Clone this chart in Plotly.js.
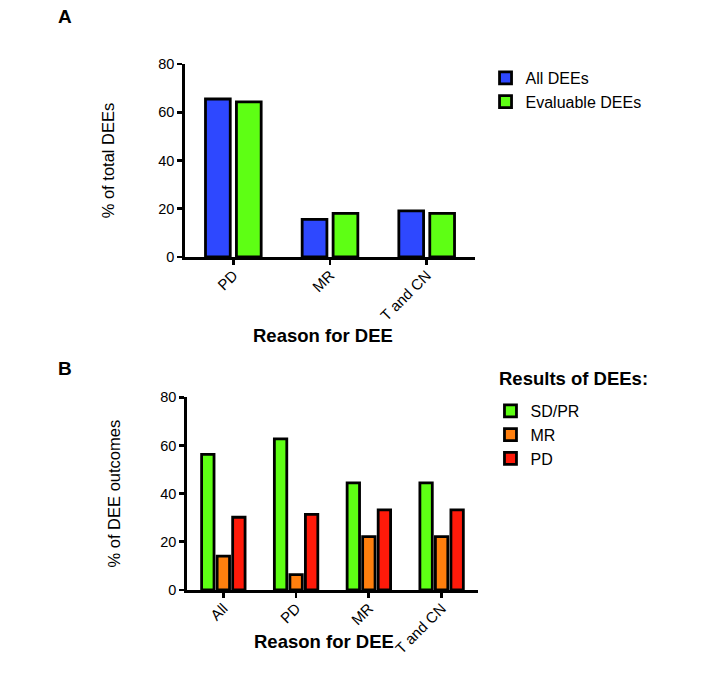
<!DOCTYPE html>
<html>
<head>
<meta charset="utf-8">
<script src="https://cdn.plot.ly/plotly-3.0.1.min.js"></script>
<style>html,body{margin:0;padding:0;background:#fff;}#chart{width:705px;height:676px;}</style>
</head>
<body>
<div id="chart"></div>
<script>
// Panel A
const catsA = ["PD", "MR", "T and CN"];
const allDEEs = [65.5, 15.6, 19.1];
const evaluableDEEs = [64.3, 18.1, 18.1];
// Panel B
const catsB = ["All", "PD", "MR", "T and CN"];
const sdpr = [56.3, 62.7, 44.5, 44.5];
const mr = [14.1, 6.4, 22.2, 22.2];
const pd = [30.2, 31.4, 33.3, 33.3];
const yTicks = [0, 20, 40, 60, 80];

const FONT = "Liberation Sans, Arial, sans-serif";
const line = {color: "#000", width: 2.8};

const traces = [
  {type: "bar", x: catsA, y: allDEEs, name: "All DEEs", marker: {color: "#2E48FF", line: line}, xaxis: "x", yaxis: "y", legend: "legend"},
  {type: "bar", x: catsA, y: evaluableDEEs, name: "Evaluable DEEs", marker: {color: "#5EFF14", line: line}, xaxis: "x", yaxis: "y", legend: "legend"},
  {type: "bar", x: catsB, y: sdpr, name: "SD/PR", marker: {color: "#5EFF14", line: line}, xaxis: "x2", yaxis: "y2", legend: "legend2"},
  {type: "bar", x: catsB, y: mr, name: "MR", marker: {color: "#FF7F0E", line: line}, xaxis: "x2", yaxis: "y2", legend: "legend2"},
  {type: "bar", x: catsB, y: pd, name: "PD", marker: {color: "#FF1A0A", line: line}, xaxis: "x2", yaxis: "y2", legend: "legend2"}
];

function xax(domain, anchor, n) {
  return {
    domain: domain, anchor: anchor, range: [-0.5, n - 0.5],
    showline: true, linecolor: "#000", linewidth: 2.8,
    ticks: "outside", ticklen: 5, tickwidth: 2.8, tickcolor: "#000",
    tickangle: -45, ticklabelstandoff: -4, tickfont: {family: FONT, size: 15, color: "#000"},
    showgrid: false, zeroline: false, fixedrange: true
  };
}
function yax(domain, anchor, title, standoff) {
  return {
    domain: domain, anchor: anchor, range: [0, 80],
    tickvals: yTicks, ticktext: yTicks.map(String),
    showline: true, linecolor: "#000", linewidth: 2.8,
    ticks: "outside", ticklen: 5, tickwidth: 2.8, tickcolor: "#000",
    tickfont: {family: FONT, size: 14.5, color: "#000"},
    showgrid: false, zeroline: false, fixedrange: true,
    title: {text: title, font: {family: FONT, size: 16.5, color: "#000"}, standoff: standoff}
  };
}

const layout = {
  width: 705, height: 676,
  margin: {l: 0, r: 0, t: 0, b: 0},
  paper_bgcolor: "#fff", plot_bgcolor: "#fff",
  font: {family: FONT, color: "#000"},
  barmode: "group", bargap: 0.36, bargroupgap: 0.2,
  xaxis: xax([0.2624, 0.6738], "y", catsA.length),
  yaxis: yax([0.6198, 0.9053], "x", "% of total DEEs", 40),
  xaxis2: xax([0.2652, 0.678], "y2", catsB.length),
  yaxis2: yax([0.1272, 0.4123], "x2", "% of DEE outcomes", 36),
  legend: {x: 0.6887, y: 0.9098, xanchor: "left", yanchor: "top", font: {family: FONT, size: 16, color: "#000"}, bgcolor: "rgba(0,0,0,0)", tracegroupgap: 0, itemwidth: 30},
  legend2: {x: 0.6957, y: 0.4172, xanchor: "left", yanchor: "top", font: {family: FONT, size: 16, color: "#000"}, bgcolor: "rgba(0,0,0,0)", itemwidth: 30},
  annotations: [
    {text: "<b>A</b>", xref: "paper", yref: "paper", x: 56/705, y: 1 - 17/676, xanchor: "left", yanchor: "middle", showarrow: false, font: {family: FONT, size: 19, color: "#000"}},
    {text: "<b>B</b>", xref: "paper", yref: "paper", x: 56/705, y: 1 - 368/676, xanchor: "left", yanchor: "middle", showarrow: false, font: {family: FONT, size: 19, color: "#000"}},
    {text: "<b>Reason for DEE</b>", xref: "paper", yref: "paper", x: 323/705, y: 1 - 335/676, xanchor: "center", yanchor: "middle", showarrow: false, font: {family: FONT, size: 18.5, color: "#000"}},
    {text: "<b>Reason for DEE</b>", xref: "paper", yref: "paper", x: 324/705, y: 1 - 641/676, xanchor: "center", yanchor: "middle", showarrow: false, font: {family: FONT, size: 18.5, color: "#000"}},
    {text: "<b>Results of DEEs:</b>", xref: "paper", yref: "paper", x: 497/705, y: 1 - 378.5/676, xanchor: "left", yanchor: "middle", showarrow: false, font: {family: FONT, size: 18.5, color: "#000"}}
  ]
};

Plotly.newPlot("chart", traces, layout, {displayModeBar: false, staticPlot: true});
</script>
</body>
</html>
